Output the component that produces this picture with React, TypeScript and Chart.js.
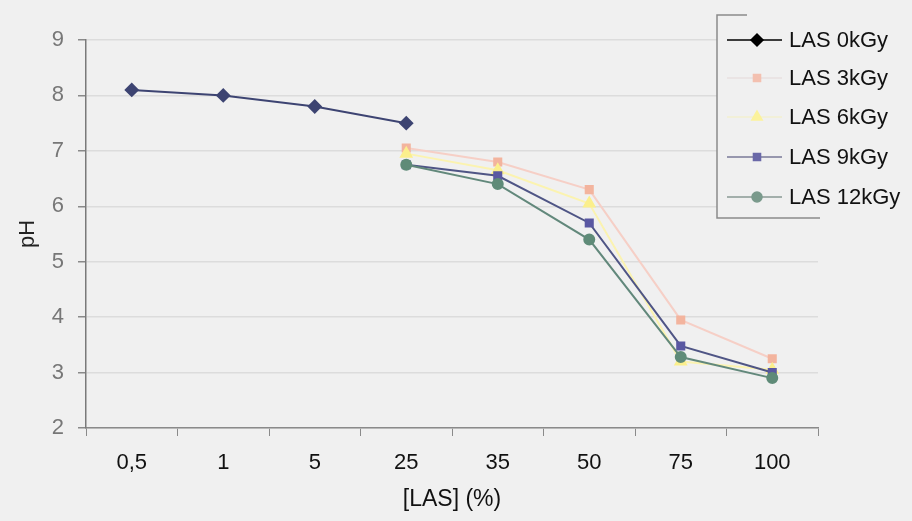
import React, { useEffect, useRef } from "react";
import { Chart, registerables } from "chart.js";
import { drawPoint } from "chart.js/helpers";

Chart.register(...registerables);

const categories = ["0,5", "1", "5", "25", "35", "50", "75", "100"];
const las0 = [8.1, 8.0, 7.8, 7.5, null, null, null, null];
const las3 = [null, null, null, 7.05, 6.8, 6.3, 3.95, 3.25];
const las6 = [null, null, null, 6.95, 6.65, 6.05, 3.2, 3.05];
const las9 = [null, null, null, 6.75, 6.55, 5.7, 3.48, 3.0];
const las12 = [null, null, null, 6.75, 6.4, 5.4, 3.28, 2.9];
const seriesNames = ["LAS 0kGy", "LAS 3kGy", "LAS 6kGy", "LAS 9kGy", "LAS 12kGy"];
const yTicks = [2, 3, 4, 5, 6, 7, 8, 9];

const BG = "#f0f0f0";
const FONT = "'Liberation Sans', Arial, sans-serif";

const styles = [
  { line: "#3d4472", point: "#3d4472", legendLine: "#000000", legendPoint: "#000000", shape: "rectRot", r: 6 },
  { line: "#f6cfc6", point: "#f3b49e", legendLine: "#e8e0e0", legendPoint: "#f3c0b0", shape: "rect", r: 5 },
  { line: "#fbf3b0", point: "#fbef8c", legendLine: "#f3f0d0", legendPoint: "#fbf29c", shape: "triangle", r: 6 },
  { line: "#4f5585", point: "#5a58a2", legendLine: "#7a7a98", legendPoint: "#6a68a8", shape: "rect", r: 5 },
  { line: "#62887b", point: "#5f8b78", legendLine: "#8a9a94", legendPoint: "#7a9a8c", shape: "circle", r: 5 },
];

const legendPlugin = {
  id: "customLegend",
  afterDraw(chart: any) {
    const ctx = chart.ctx;
    ctx.save();
    const x0 = 717, y0 = 15, y1 = 218;
    ctx.fillStyle = BG;
    ctx.fillRect(x0, y0, 912 - x0, y1 - y0);
    ctx.strokeStyle = "#8a8a8a";
    ctx.lineWidth = 1.5;
    ctx.beginPath();
    ctx.moveTo(x0 + 30, y0);
    ctx.lineTo(x0, y0);
    ctx.lineTo(x0, y1);
    ctx.lineTo(820, y1);
    ctx.stroke();
    const ys = [40, 78, 117, 157, 197];
    seriesNames.forEach((name, i) => {
      const s = styles[i];
      const y = ys[i];
      ctx.strokeStyle = s.legendLine;
      ctx.lineWidth = 1.5;
      ctx.beginPath();
      ctx.moveTo(727, y);
      ctx.lineTo(782, y);
      ctx.stroke();
      ctx.fillStyle = s.legendPoint;
      ctx.strokeStyle = s.legendPoint;
      drawPoint(ctx, { pointStyle: s.shape, radius: s.r, borderWidth: 1, rotation: 0 }, 757, y);
      ctx.fillStyle = "#111111";
      ctx.font = `22px ${FONT}`;
      ctx.textAlign = "left";
      ctx.textBaseline = "middle";
      ctx.fillText(name, 789, y + 1);
    });
    ctx.restore();
  },
};

const bgPlugin = {
  id: "bg",
  beforeDraw(chart: any) {
    const ctx = chart.ctx;
    ctx.save();
    ctx.fillStyle = BG;
    ctx.fillRect(0, 0, chart.width, chart.height);
    ctx.restore();
  },
};

export default function App() {
  const ref = useRef<HTMLCanvasElement>(null);
  useEffect(() => {
    if (!ref.current) return;
    const all = [las0, las3, las6, las9, las12];
    const chart = new Chart(ref.current, {
      type: "line",
      data: {
        labels: categories,
        datasets: all.map((d, i) => ({
          label: seriesNames[i],
          data: d,
          borderColor: styles[i].line,
          backgroundColor: styles[i].point,
          pointBackgroundColor: styles[i].point,
          pointBorderColor: styles[i].point,
          pointStyle: styles[i].shape as any,
          pointRadius: styles[i].r,
          borderWidth: 2,
          tension: 0,
          spanGaps: false,
          order: 4 - i,
        })),
      },
      options: {
        responsive: false,
        animation: false,
        layout: { padding: { top: 40, right: 94, left: 0, bottom: 0 } },
        plugins: { legend: { display: false }, tooltip: { enabled: false } },
        scales: {
          x: {
            offset: true,
            grid: { display: true, drawOnChartArea: false, drawTicks: true, tickLength: 8, offset: true, tickColor: "#8a8a8a" },
            border: { color: "#8a8a8a", width: 1.5 },
            ticks: { color: "#111111", font: { family: FONT, size: 22 }, padding: 14, maxRotation: 0 },
            title: { display: true, text: "[LAS] (%)", color: "#111111", font: { family: FONT, size: 23 }, padding: { top: 0, bottom: 8 } },
            afterFit: (s: any) => { s.height = 93; },
          },
          y: {
            min: 2,
            max: 9,
            afterBuildTicks: (s: any) => { s.ticks = yTicks.map((v) => ({ value: v })); },
            grid: { color: "#dcdcdc", lineWidth: 1.5, tickLength: 8, tickColor: "#8a8a8a" },
            border: { color: "#7a7a7a", width: 1.5 },
            ticks: { color: "#777777", font: { family: FONT, size: 22 }, padding: 14 },
            title: { display: true, text: "pH", color: "#222222", font: { family: FONT, size: 22 }, padding: { top: 15, bottom: 0 } },
            afterFit: (s: any) => { s.width = 86; },
          },
        },
      },
      plugins: [bgPlugin, legendPlugin],
    });
    return () => chart.destroy();
  }, []);
  return (
    <div style={{ position: "fixed", left: 0, top: 0, width: 912, height: 521, background: BG }}>
      <canvas ref={ref} width={912} height={521} style={{ display: "block" }} />
    </div>
  );
}
